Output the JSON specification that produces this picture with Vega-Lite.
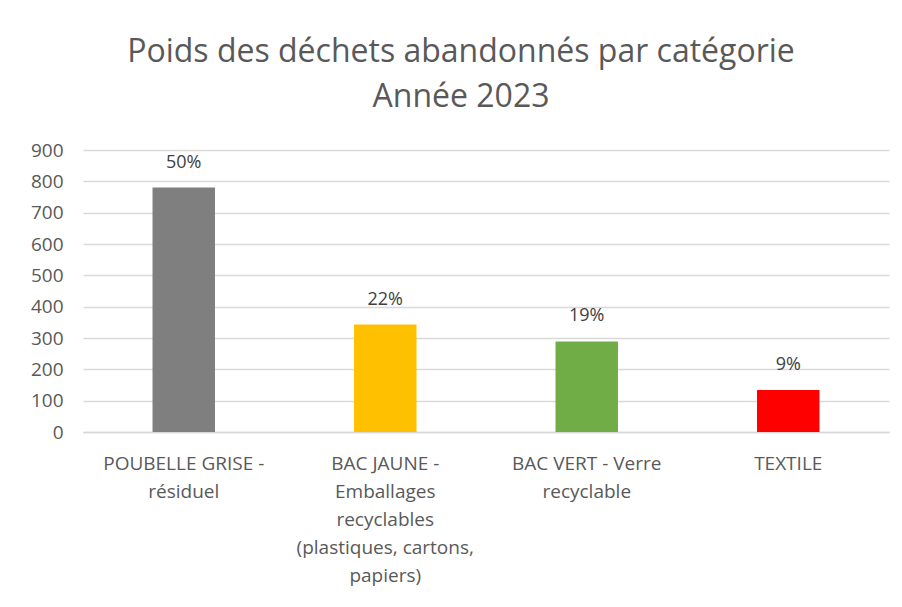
{
  "$schema": "https://vega.github.io/schema/vega-lite/v6.json",
  "width": 806,
  "height": 282,
  "autosize": "none",
  "padding": {"left": 83, "top": 150, "right": 13, "bottom": 175},
  "background": "white",
  "title": {
    "text": ["Poids des déchets abandonnés par catégorie", "Année 2023"],
    "font": "Open Sans",
    "fontSize": 32,
    "fontWeight": "normal",
    "color": "#595959",
    "anchor": "middle",
    "lineHeight": 45,
    "offset": 27,
    "dx": -25
  },
  "data": {
    "values": [
      {"categorie": "POUBELLE GRISE - résiduel", "poids": 780, "pct": "50%", "couleur": "#7F7F7F"},
      {"categorie": "BAC JAUNE - Emballages recyclables (plastiques, cartons, papiers)", "poids": 343, "pct": "22%", "couleur": "#FFC000"},
      {"categorie": "BAC VERT - Verre recyclable", "poids": 289, "pct": "19%", "couleur": "#70AD47"},
      {"categorie": "TEXTILE", "poids": 134, "pct": "9%", "couleur": "#FF0000"}
    ]
  },
  "encoding": {
    "x": {
      "field": "categorie",
      "type": "nominal",
      "sort": null,
      "title": null,
      "scale": {"paddingInner": 0.69, "paddingOuter": 0.345},
      "axis": {
        "labelAngle": 0,
        "labelFont": "Open Sans",
        "labelFontSize": 19,
        "labelColor": "#595959",
        "labelLineHeight": 28,
        "labelPadding": 22,
        "labelLimit": 0,
        "ticks": false,
        "domainColor": "#D9D9D9",
        "domainWidth": 1.5,
        "labelExpr": "datum.value == 'POUBELLE GRISE - résiduel' ? ['POUBELLE GRISE -', 'résiduel'] : datum.value == 'BAC VERT - Verre recyclable' ? ['BAC VERT - Verre', 'recyclable'] : datum.value == 'TEXTILE' ? 'TEXTILE' : ['BAC JAUNE -', 'Emballages', 'recyclables', '(plastiques, cartons,', 'papiers)']"
      }
    },
    "y": {
      "field": "poids",
      "type": "quantitative",
      "title": null,
      "scale": {"domain": [0, 900], "nice": false},
      "axis": {
        "values": [0, 100, 200, 300, 400, 500, 600, 700, 800, 900],
        "labelFont": "Open Sans",
        "labelFontSize": 19,
        "labelColor": "#595959",
        "labelPadding": 20,
        "ticks": false,
        "domain": false,
        "gridColor": "#D9D9D9",
        "gridWidth": 1.5
      }
    }
  },
  "layer": [
    {
      "mark": {"type": "bar"},
      "encoding": {
        "color": {"field": "couleur", "type": "nominal", "scale": null, "legend": null}
      }
    },
    {
      "mark": {"type": "text", "baseline": "bottom", "dy": -16, "font": "Open Sans", "fontSize": 18, "color": "#404040"},
      "encoding": {"text": {"field": "pct"}}
    }
  ],
  "config": {"view": {"stroke": null}}
}
